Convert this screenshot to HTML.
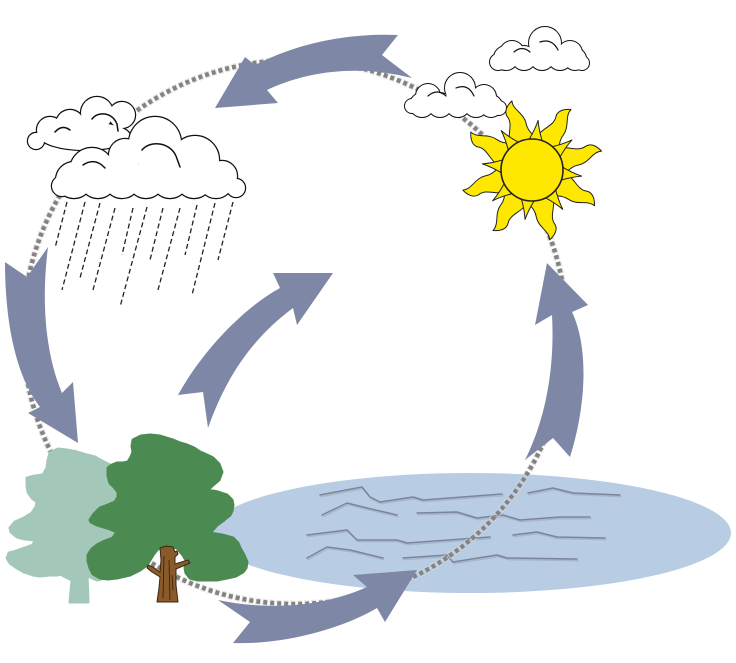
<!DOCTYPE html>
<html>
<head>
<meta charset="utf-8">
<style>
  html,body{margin:0;padding:0;background:#fff;}
  body{width:736px;height:663px;overflow:hidden;}
  svg{display:block;}
</style>
</head>
<body>
<svg width="736" height="663" viewBox="0 0 736 663" xmlns="http://www.w3.org/2000/svg">
  <rect x="0" y="0" width="736" height="663" fill="#ffffff"/>

  <!-- Lake -->
  <ellipse cx="470" cy="533" rx="261" ry="60" fill="#b8cce4"/>

  <!-- Waves (shadow) -->
  <g fill="none" stroke="#a7b6cb" stroke-width="1.6" stroke-linejoin="round" stroke-linecap="round" transform="translate(1,1.6)">
    <polyline points="320,495 362,487 370,497 380,502 413,497 423,500 502,494"/>
    <polyline points="322,515 347,503 367,508 397,515"/>
    <polyline points="417,513 457,512 477,518 503,515 520,520 560,517 590,517"/>
    <polyline points="528,493 553,488 573,493 620,495"/>
    <polyline points="307,535 347,530 357,540 397,540 407,543 490,537"/>
    <polyline points="513,535 537,532 557,537 605,538"/>
    <polyline points="307,558 327,547 350,550 383,558"/>
    <polyline points="403,558 447,555 453,562 497,555 507,558 577,559"/>
  </g>
  <!-- Waves -->
  <g fill="none" stroke="#7b8599" stroke-width="1.5" stroke-linejoin="round" stroke-linecap="round">
    <polyline points="320,495 362,487 370,497 380,502 413,497 423,500 502,494"/>
    <polyline points="322,515 347,503 367,508 397,515"/>
    <polyline points="417,513 457,512 477,518 503,515 520,520 560,517 590,517"/>
    <polyline points="528,493 553,488 573,493 620,495"/>
    <polyline points="307,535 347,530 357,540 397,540 407,543 490,537"/>
    <polyline points="513,535 537,532 557,537 605,538"/>
    <polyline points="307,558 327,547 350,550 383,558"/>
    <polyline points="403,558 447,555 453,562 497,555 507,558 577,559"/>
  </g>

  <!-- Dotted cycle circle -->
  <circle cx="295" cy="332" r="272" fill="none" stroke="#d9d9d9" stroke-width="7" stroke-opacity="0.6" stroke-dasharray="5 2"/>
  <circle cx="295" cy="332" r="272" fill="none" stroke="#838383" stroke-width="4.5" stroke-dasharray="4 3"/>

  <!-- Arrows -->
  <g fill="#7e88a6">
    <path d="M398,35 C350,33 300,42 255,65 L245,57 L215,108 L278,103 L267,90 C310,70 360,65 412,78 L382,55 Z"/>
    <path d="M48,247 L27,277 L5,262 C5,320 15,375 40,407 L28,413 L78,443 L73,382 L62,393 C48,360 40,310 48,247 Z"/>
    <path d="M218,600 C265,610 320,608 367,587 L353,575 L417,570 L385,622 L377,608 C340,630 280,645 233,643 L250,622 Z"/>
    <path d="M552,315 L535,325 L547,263 L588,305 L572,312 C590,350 585,410 570,457 L553,438 L525,460 C545,420 555,370 552,315 Z"/>
    <path d="M178,395 C200,355 240,310 280,288 L273,273 L333,273 L297,325 L293,308 C250,340 225,380 208,428 L203,392 Z"/>
  </g>

  <!-- Light tree -->
  <g fill="#a3c8ba" stroke="#a3c8ba" stroke-width="3" stroke-linejoin="round">
    <polygon points="50,453 58,449 67,450 77,452 87,455 95,457 100,460 110,465 118,475 120,497 118,530 112,560 105,578 97,580 88,576 85,570 72,572 67,572 58,575 50,575 40,576 33,575 24,572 17,568 10,563 7,558 9,553 13,552 22,549 33,545 35,540 25,539 17,537 11,532 10,528 15,522 24,518 32,513 36,507 37,502 32,498 28,492 27,486 27,478 35,476 43,475 47,468 48,460"/>
    <polygon points="72,552 85,552 87,566 96,562 98,567 87,573 88,602 70,602 72,580 62,575 58,570 61,568 72,574"/>
  </g>

  <!-- Dark tree -->
  <g fill="#4b8a50" stroke="#4b8a50" stroke-width="3" stroke-linejoin="round">
    <polygon points="133,440 141,436 150,435 160,436 173,440 180,443 187,445 194,448 200,452 207,455 213,458 219,464 222,472 219,480 213,485 208,490 218,492 227,495 232,500 233,505 232,511 230,515 224,520 217,525 210,533 222,535 233,538 238,543 240,548 244,555 247,562 246,568 243,572 236,576 227,578 217,580 207,580 198,580 190,578 186,573 185,568 187,562 183,555 177,548 170,546 160,547 156,551 153,555 150,560 147,565 140,570 130,575 117,578 108,579 100,578 93,574 90,568 88,561 88,555 92,549 97,545 105,541 113,538 117,532 110,529 97,525 91,522 90,520 94,514 100,508 108,505 115,502 118,497 118,492 114,487 110,483 108,476 108,468 112,465 117,463 123,463 128,462 131,457 133,452 132,446"/>
  </g>
  <!-- Dark tree trunk -->
  <g fill="#8b5a2b" stroke="#3a2612" stroke-width="1" stroke-linejoin="round">
    <polygon points="160,548 166,546 173,547 175,552 177,551 178,554 175,557 175,564 188,560 190,563 176,569 176,585 178,602 157,602 159,588 160,577 152,572 147,568 148,565 153,567 160,572 161,560"/>
  </g>
  <g stroke="#2e1e0e" stroke-width="0.8" fill="none">
    <line x1="164" y1="556" x2="163" y2="598"/>
    <line x1="169" y1="560" x2="170" y2="600"/>
    <line x1="172" y1="575" x2="173" y2="590"/>
  </g>

  <!-- Rain -->
  <g stroke="#222" stroke-width="1.3" stroke-dasharray="5 3" fill="none">
    <line x1="67" y1="202" x2="55" y2="248"/>
    <line x1="85" y1="202" x2="62" y2="290"/>
    <line x1="100" y1="203" x2="80" y2="278"/>
    <line x1="115" y1="208" x2="93" y2="290"/>
    <line x1="133" y1="208" x2="122" y2="255"/>
    <line x1="147" y1="207" x2="120" y2="307"/>
    <line x1="163" y1="208" x2="150" y2="260"/>
    <line x1="180" y1="208" x2="158" y2="290"/>
    <line x1="197" y1="205" x2="185" y2="255"/>
    <line x1="215" y1="203" x2="192" y2="295"/>
    <line x1="233" y1="202" x2="218" y2="260"/>
  </g>

  <!-- Back rain cloud -->
  <g stroke="#111" stroke-width="2.4" fill="#111">
    <circle cx="36" cy="141" r="8"/>
    <circle cx="50" cy="130" r="13"/>
    <circle cx="70" cy="124" r="14"/>
    <circle cx="97" cy="113" r="16"/>
    <circle cx="122" cy="115" r="13"/>
    <ellipse cx="85" cy="136" rx="45" ry="14"/>
  </g>
  <g fill="#fff">
    <circle cx="36" cy="141" r="8"/>
    <circle cx="50" cy="130" r="13"/>
    <circle cx="70" cy="124" r="14"/>
    <circle cx="97" cy="113" r="16"/>
    <circle cx="122" cy="115" r="13"/>
    <ellipse cx="85" cy="136" rx="45" ry="14"/>
  </g>
  <g fill="none" stroke="#111" stroke-width="1.5" stroke-linecap="round">
    <path d="M92,119 C98,111 112,112 117,124 L118,131"/>
    <path d="M55,132 Q62,124 70,130"/>
  </g>

  <!-- Front rain cloud -->
  <g stroke="#111" stroke-width="2.4" fill="#111">
    <circle cx="62" cy="186" r="10"/>
    <circle cx="92" cy="170" r="22"/>
    <circle cx="125" cy="155" r="16"/>
    <circle cx="155" cy="143" r="26"/>
    <circle cx="195" cy="160" r="24"/>
    <circle cx="222" cy="176" r="15"/>
    <circle cx="236" cy="188" r="9"/>
    <circle cx="74" cy="180" r="18"/>
    <circle cx="98" cy="180" r="18"/>
    <circle cx="122" cy="180" r="18"/>
    <circle cx="146" cy="180" r="18"/>
    <circle cx="170" cy="180" r="18"/>
    <circle cx="194" cy="180" r="18"/>
    <circle cx="216" cy="181" r="17"/>
  </g>
  <g fill="#fff">
    <circle cx="62" cy="186" r="10"/>
    <circle cx="92" cy="170" r="22"/>
    <circle cx="125" cy="155" r="16"/>
    <circle cx="155" cy="143" r="26"/>
    <circle cx="195" cy="160" r="24"/>
    <circle cx="222" cy="176" r="15"/>
    <circle cx="236" cy="188" r="9"/>
    <circle cx="74" cy="180" r="18"/>
    <circle cx="98" cy="180" r="18"/>
    <circle cx="122" cy="180" r="18"/>
    <circle cx="146" cy="180" r="18"/>
    <circle cx="170" cy="180" r="18"/>
    <circle cx="194" cy="180" r="18"/>
    <circle cx="216" cy="181" r="17"/>
  </g>
  <g fill="none" stroke="#111" stroke-width="1.5" stroke-linecap="round">
    <path d="M142,150 C150,140 170,142 176,156 L180,167"/>
    <path d="M83,165 Q95,157 105,168"/>
  </g>

  <!-- Small cloud A -->
  <g stroke="#111" stroke-width="2" fill="#111">
    <circle cx="498" cy="62" r="8"/>
    <circle cx="512" cy="53" r="12"/>
    <circle cx="545" cy="43" r="16"/>
    <circle cx="570" cy="53" r="12"/>
    <circle cx="582" cy="63" r="7"/>
    <circle cx="506" cy="58" r="12"/>
    <circle cx="524" cy="58" r="12"/>
    <circle cx="542" cy="58" r="12"/>
    <circle cx="560" cy="58" r="12"/>
    <circle cx="575" cy="59" r="11"/>
  </g>
  <g fill="#fff">
    <circle cx="498" cy="62" r="8"/>
    <circle cx="512" cy="53" r="12"/>
    <circle cx="545" cy="43" r="16"/>
    <circle cx="570" cy="53" r="12"/>
    <circle cx="582" cy="63" r="7"/>
    <circle cx="506" cy="58" r="12"/>
    <circle cx="524" cy="58" r="12"/>
    <circle cx="542" cy="58" r="12"/>
    <circle cx="560" cy="58" r="12"/>
    <circle cx="575" cy="59" r="11"/>
  </g>
  <g fill="none" stroke="#111" stroke-width="1.2" stroke-linecap="round">
    <path d="M514,52 Q522,45 530,52"/>
    <path d="M540,42 Q552,38 558,50"/>
  </g>

  <!-- Small cloud B -->
  <g stroke="#111" stroke-width="2" fill="#111">
    <circle cx="412" cy="106" r="7"/>
    <circle cx="428" cy="96" r="12"/>
    <circle cx="460" cy="88" r="15"/>
    <circle cx="484" cy="97" r="12"/>
    <circle cx="499" cy="108" r="7"/>
    <circle cx="422" cy="105" r="12"/>
    <circle cx="440" cy="105" r="12"/>
    <circle cx="458" cy="105" r="12"/>
    <circle cx="476" cy="105" r="12"/>
    <circle cx="491" cy="106" r="11"/>
  </g>
  <g fill="#fff">
    <circle cx="412" cy="106" r="7"/>
    <circle cx="428" cy="96" r="12"/>
    <circle cx="460" cy="88" r="15"/>
    <circle cx="484" cy="97" r="12"/>
    <circle cx="499" cy="108" r="7"/>
    <circle cx="422" cy="105" r="12"/>
    <circle cx="440" cy="105" r="12"/>
    <circle cx="458" cy="105" r="12"/>
    <circle cx="476" cy="105" r="12"/>
    <circle cx="491" cy="106" r="11"/>
  </g>
  <g fill="none" stroke="#111" stroke-width="1.2" stroke-linecap="round">
    <path d="M428,96 Q437,88 446,96"/>
    <path d="M456,88 Q468,83 474,96"/>
  </g>

  <!-- Sun -->
  <g fill="#ffe800" stroke="#222" stroke-width="1" stroke-linejoin="round">
    <g transform="translate(532,170)">
      <path transform="rotate(-17)" d="M-13,-26 C-16,-40 -4,-48 -8,-58 C-10,-64 -5,-69 1,-72 C-1,-63 9,-57 8,-46 C7,-38 13,-32 13,-26 Z"/>
      <path transform="rotate(32)" d="M-13,-26 C-16,-40 -4,-48 -8,-58 C-10,-64 -5,-69 1,-72 C-1,-63 9,-57 8,-46 C7,-38 13,-32 13,-26 Z"/>
      <path transform="rotate(74)" d="M-13,-26 C-16,-40 -4,-48 -8,-58 C-10,-64 -5,-69 1,-72 C-1,-63 9,-57 8,-46 C7,-38 13,-32 13,-26 Z"/>
      <path transform="rotate(119)" d="M-13,-26 C-16,-40 -4,-48 -8,-58 C-10,-64 -5,-69 1,-72 C-1,-63 9,-57 8,-46 C7,-38 13,-32 13,-26 Z"/>
      <path transform="rotate(165)" d="M-13,-26 C-16,-40 -4,-48 -8,-58 C-10,-64 -5,-69 1,-72 C-1,-63 9,-57 8,-46 C7,-38 13,-32 13,-26 Z"/>
      <path transform="rotate(212)" d="M-13,-26 C-16,-40 -4,-48 -8,-58 C-10,-64 -5,-69 1,-72 C-1,-63 9,-57 8,-46 C7,-38 13,-32 13,-26 Z"/>
      <path transform="rotate(253)" d="M-13,-26 C-16,-40 -4,-48 -8,-58 C-10,-64 -5,-69 1,-72 C-1,-63 9,-57 8,-46 C7,-38 13,-32 13,-26 Z"/>
      <path transform="rotate(301)" d="M-13,-26 C-16,-40 -4,-48 -8,-58 C-10,-64 -5,-69 1,-72 C-1,-63 9,-57 8,-46 C7,-38 13,-32 13,-26 Z"/>
      <path transform="rotate(7)" d="M-7,-29 Q-2,-40 0,-50 Q2,-40 7,-29 Z"/>
      <path transform="rotate(53)" d="M-7,-29 Q-2,-40 0,-50 Q2,-40 7,-29 Z"/>
      <path transform="rotate(97)" d="M-7,-29 Q-2,-40 0,-50 Q2,-40 7,-29 Z"/>
      <path transform="rotate(142)" d="M-7,-29 Q-2,-40 0,-50 Q2,-40 7,-29 Z"/>
      <path transform="rotate(188)" d="M-7,-29 Q-2,-40 0,-50 Q2,-40 7,-29 Z"/>
      <path transform="rotate(232)" d="M-7,-29 Q-2,-40 0,-50 Q2,-40 7,-29 Z"/>
      <path transform="rotate(277)" d="M-7,-29 Q-2,-40 0,-50 Q2,-40 7,-29 Z"/>
      <path transform="rotate(322)" d="M-7,-29 Q-2,-40 0,-50 Q2,-40 7,-29 Z"/>
      <circle cx="0" cy="0" r="31" stroke-width="1.6"/>
    </g>
  </g>
</svg>
</body>
</html>
